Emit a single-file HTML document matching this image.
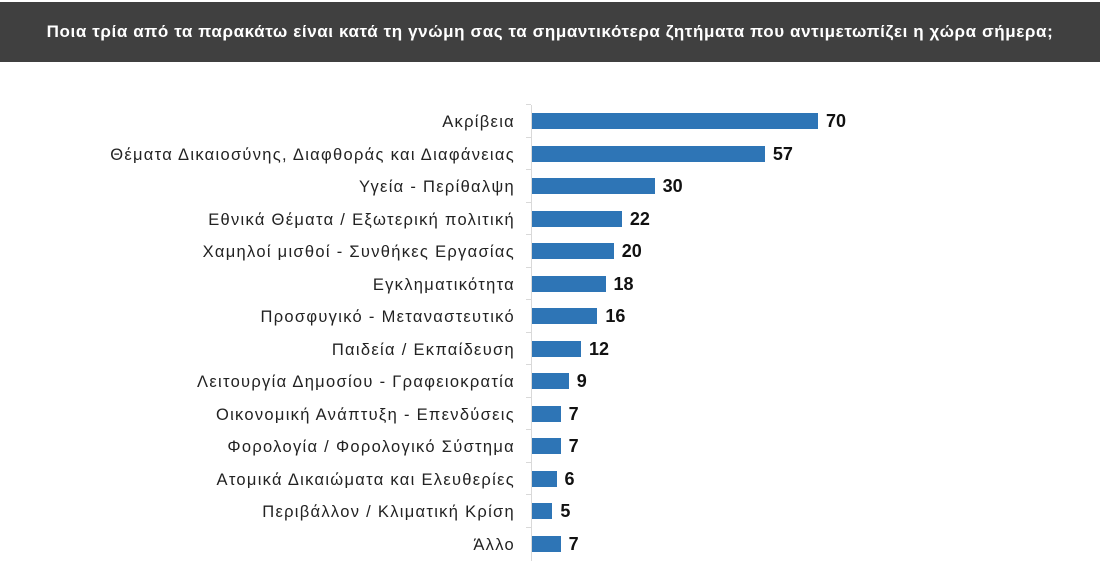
<!DOCTYPE html>
<html><head><meta charset="utf-8"><style>
body{margin:0;width:1100px;height:583px;background:#fff;position:relative;overflow:hidden;font-family:"Liberation Sans","DejaVu Sans",sans-serif}
.hdr{position:absolute;left:0;top:2px;width:1100px;height:60px;background:#404040;color:#fff;font-weight:bold;font-size:17px;letter-spacing:0.6px;text-align:center;line-height:60px}
.axis{position:absolute;left:531px;top:105px;width:1px;height:456px;background:#d9d9d9}
.row{position:absolute;left:0;width:1100px;height:32px}
.lab{position:absolute;right:585px;top:8px;font-size:16.5px;letter-spacing:1.3px;color:#222;white-space:nowrap}
.bar{position:absolute;left:532px;top:8px;height:16px;background:#2e75b6}
.val{position:absolute;top:6px;font-size:18px;font-weight:bold;color:#111}
.tk{position:absolute;left:526px;top:-1px;width:5px;height:1px;background:#d9d9d9}
</style></head><body>
<div class="hdr">Ποια τρία από τα παρακάτω είναι κατά τη γνώμη σας τα σημαντικότερα ζητήματα που αντιμετωπίζει η χώρα σήμερα;</div>
<div class="axis"></div>
<div id="c"></div>
<script>
var d=[["Ακρίβεια",70],["Θέματα Δικαιοσύνης, Διαφθοράς και Διαφάνειας",57],["Υγεία - Περίθαλψη",30],["Εθνικά Θέματα / Εξωτερική πολιτική",22],["Χαμηλοί μισθοί - Συνθήκες Εργασίας",20],["Εγκληματικότητα",18],["Προσφυγικό - Μεταναστευτικό",16],["Παιδεία / Εκπαίδευση",12],["Λειτουργία Δημοσίου - Γραφειοκρατία",9],["Οικονομική Ανάπτυξη - Επενδύσεις",7],["Φορολογία / Φορολογικό Σύστημα",7],["Ατομικά Δικαιώματα και Ελευθερίες",6],["Περιβάλλον / Κλιματική Κρίση",5],["Άλλο",7]];
var h="";d.forEach(function(r,i){var y=105+i*32.5,w=r[1]*4.086;
h+='<div class="row" style="top:'+y+'px"><div class="tk"></div><div class="lab">'+r[0]+'</div><div class="bar" style="width:'+w+'px"></div><div class="val" style="left:'+(532+w+8)+'px">'+r[1]+'</div></div>';});
document.getElementById("c").innerHTML=h;
</script>
</body></html>
